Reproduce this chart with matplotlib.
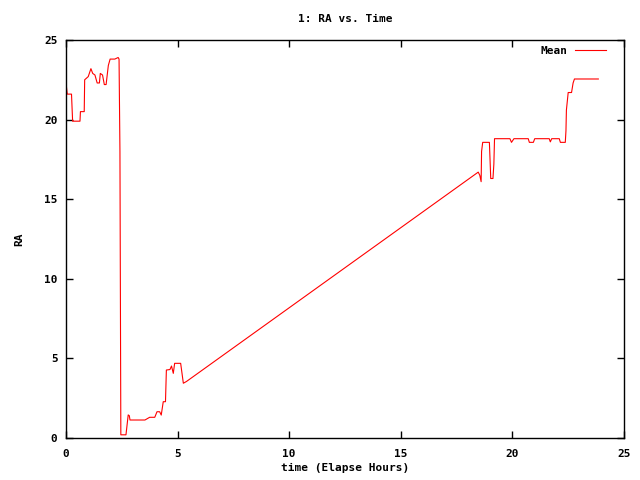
import matplotlib
matplotlib.use('Agg')
import matplotlib.pyplot as plt

# elapsed hours vs mean RA
hours = [0.0, 0.02, 0.06, 0.25, 0.3, 0.63, 0.65, 0.82, 0.84, 1.0, 1.12, 1.2, 1.3,
         1.4, 1.5, 1.54, 1.64, 1.72, 1.8, 1.9, 1.98, 2.19, 2.34, 2.38, 2.42, 2.46,
         2.69, 2.79, 2.84, 2.87, 3.54, 3.75, 3.98, 4.08, 4.2, 4.27, 4.36, 4.46,
         4.5, 4.66, 4.73, 4.81, 4.87, 5.14, 5.26, 5.4,
         18.47, 18.54, 18.6, 18.62, 18.67, 18.97, 19.0, 19.03, 19.13, 19.17, 19.2,
         19.89, 19.96, 20.07, 20.71, 20.76, 20.94, 21.0, 21.65, 21.7, 21.76,
         22.1, 22.15, 22.37, 22.4, 22.42, 22.5, 22.65, 22.72, 22.78, 23.85]
ra = [21.7, 22.1, 21.6, 21.6, 19.9, 19.9, 20.5, 20.5, 22.5, 22.7, 23.2, 22.9, 22.8,
      22.3, 22.3, 22.9, 22.8, 22.2, 22.2, 23.4, 23.8, 23.8, 23.9, 23.8, 18.0, 0.2,
      0.2, 1.45, 1.4, 1.13, 1.13, 1.3, 1.3, 1.65, 1.65, 1.44, 2.28, 2.28,
      4.27, 4.3, 4.52, 4.06, 4.69, 4.69, 3.44, 3.55,
      16.7, 16.5, 16.1, 18.0, 18.57, 18.57, 17.46, 16.3, 16.3, 17.2, 18.8,
      18.8, 18.57, 18.8, 18.8, 18.57, 18.57, 18.8, 18.8, 18.6, 18.8,
      18.8, 18.57, 18.57, 19.3, 20.6, 21.7, 21.7, 22.3, 22.55, 22.55]

xticks = [0, 5, 10, 15, 20, 25]
yticks = [0, 5, 10, 15, 20, 25]

plt.rcParams['font.family'] = 'DejaVu Sans Mono'
plt.rcParams['font.size'] = 8
plt.rcParams['font.weight'] = 'bold'

fig = plt.figure(figsize=(6.4, 4.8), dpi=100)
ax = fig.add_axes([0.103, 0.0875, 0.872, 0.8292])
ax.plot(hours, ra, color='#ff0000', linewidth=0.8, label='Mean')
ax.set_xlim(0, 25)
ax.set_ylim(0, 25)
ax.set_xticks(xticks)
ax.set_yticks(yticks)
ax.tick_params(direction='in', top=True, right=True, length=5, width=1)
ax.tick_params(axis='x', pad=8)
ax.tick_params(axis='y', pad=6)
for s in ax.spines.values():
    s.set_linewidth(1)
ax.set_title('1: RA vs. Time', fontsize=8, fontweight='bold', pad=13)
ax.set_xlabel('time (Elapse Hours)', fontweight='bold', labelpad=3)
ax.set_ylabel('RA', fontweight='bold', labelpad=14)
leg = ax.legend(loc='upper right', bbox_to_anchor=(0.985, 1.01), frameon=False,
                handlelength=2.8, handletextpad=0.6, markerfirst=False)
plt.savefig('out.png', dpi=100)
